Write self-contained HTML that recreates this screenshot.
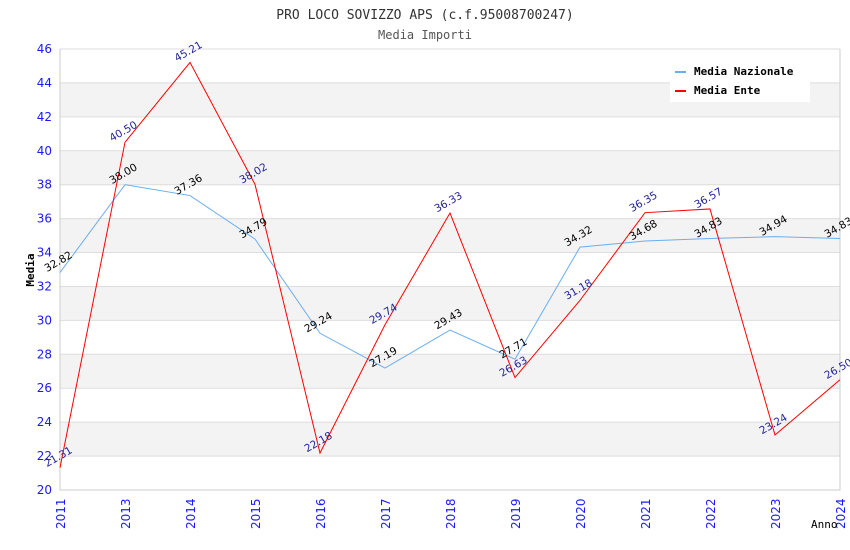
<!DOCTYPE html>
<html><head><meta charset="utf-8"><style>
body{margin:0;background:#fff}
svg{display:block}
text{font-family:"DejaVu Sans","Liberation Sans",sans-serif}
.mono{font-family:"DejaVu Sans Mono","Liberation Mono",monospace}
</style></head><body>
<svg id="chart" width="850" height="550">
<text class="mono" x="425" y="19" text-anchor="middle" font-size="13" fill="#333">PRO LOCO SOVIZZO APS (c.f.95008700247)</text>
<text class="mono" x="425" y="39" text-anchor="middle" font-size="12" fill="#555">Media Importi</text>
<g id="bands"></g><g id="grid"></g><g id="axes"></g><g id="series"></g><g id="labels"></g>
<text class="mono" x="34" y="270" transform="rotate(-90 34 270)" text-anchor="middle" font-size="11" font-weight="bold" fill="#000">Media</text>
<text class="mono" x="811" y="528" font-size="11" fill="#000">Anno</text>
<g>
<rect x="670" y="60" width="140" height="42" fill="#fff"/>
<line x1="675" y1="72" x2="686" y2="72" stroke="#6aaeef" stroke-width="2"/>
<text class="mono" x="694" y="75" font-size="11" font-weight="bold">Media Nazionale</text>
<line x1="675" y1="91" x2="686" y2="91" stroke="#f00" stroke-width="2"/>
<text class="mono" x="694" y="94" font-size="11" font-weight="bold">Media Ente</text>
</g>
</svg>
<script>
const years=["2011","2013","2014","2015","2016","2017","2018","2019","2020","2021","2022","2023","2024"];
const nazionale=[32.82,38.00,37.36,34.79,29.24,27.19,29.43,27.71,34.32,34.68,34.83,34.94,34.83];
const ente=[21.31,40.50,45.21,38.02,22.18,29.74,36.33,26.63,31.18,36.35,36.57,23.24,26.50];
const yTicks=[20,22,24,26,28,30,32,34,36,38,40,42,44,46];
const L=60,R=840,T=49,B=490,ymin=20,ymax=46;
const NS="http://www.w3.org/2000/svg";
const x=i=>L+i*(R-L)/(years.length-1);
const y=v=>B-(v-ymin)/(ymax-ymin)*(B-T);
function mk(tag,at,parent){const e=document.createElementNS(NS,tag);for(const k in at)e.setAttribute(k,at[k]);document.getElementById(parent).appendChild(e);return e;}
for(let k=0;k<yTicks.length-1;k++){
 if(k%2===1){const r=mk('rect',{x:L,y:y(yTicks[k+1]),width:R-L,height:y(yTicks[k])-y(yTicks[k+1]),fill:'#f3f3f3'},'bands');
 
 }
}
yTicks.forEach(t=>{
 const l=mk('line',{x1:L,x2:R,y1:y(t),y2:y(t),stroke:'#ddd'},'grid');
 
 
 const tx=mk('text',{x:L-8,y:y(t)+4,'text-anchor':'end','font-size':12,fill:'#1a1aff'},'axes');
 tx.textContent=t;
 
 
});
const ax=mk('path',{d:`M${L},${T}V${B}H${R}V${T}`,fill:'none',stroke:'#ccc'},'axes');


years.forEach((yr,i)=>{
 const tx=mk('text',{x:0,y:0,transform:`translate(${x(i)+5},${B+39}) rotate(-90)`,'font-size':12,fill:'#1a1aff'},'axes');
 tx.textContent=yr;
 
 
});
function series(vals,color,lc,name){
 const p=mk('polyline',{points:vals.map((v,i)=>x(i)+','+y(v)).join(' '),fill:'none',stroke:color,'stroke-width':1},'series');
 
 
 vals.forEach((v,i)=>{
  const t=mk('text',{transform:`translate(${x(i)},${y(v)-8}) rotate(-30)`,'text-anchor':'middle','font-size':10.5,fill:lc},'labels');
  t.textContent=v.toFixed(2);
  
  
 });
}
series(nazionale,'#6aaeef','#000','series-nazionale');
series(ente,'#f00','#22229a','series-ente');
</script>
</body></html>
